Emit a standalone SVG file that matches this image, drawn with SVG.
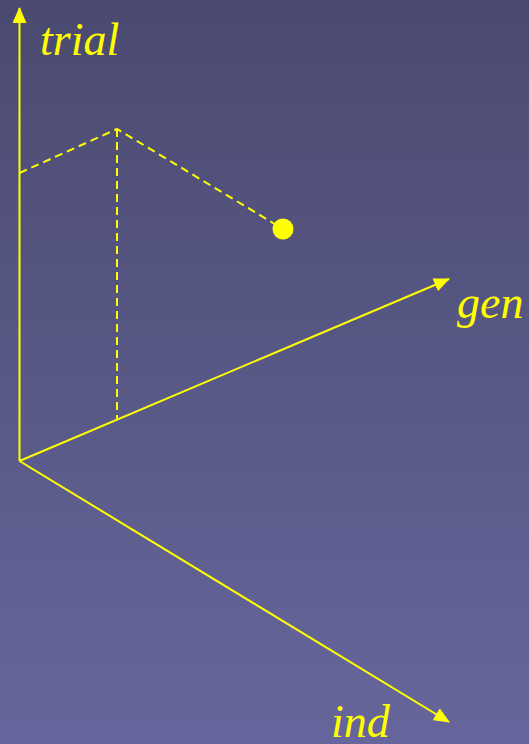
<svg xmlns="http://www.w3.org/2000/svg" width="529" height="744" viewBox="0 0 529 744">
<defs>
<linearGradient id="bg" x1="0" y1="0" x2="0" y2="1">
<stop offset="0" stop-color="#4a4a70"/>
<stop offset="1" stop-color="#66669c"/>
</linearGradient>
<marker id="ah" viewBox="0 0 16 14" refX="15" refY="7" markerWidth="16" markerHeight="14" markerUnits="userSpaceOnUse" orient="auto">
<path d="M0,0 L16,7 L0,14 Z" fill="#ffff00"/>
</marker>
<style>
.axis{stroke:#ffff00;stroke-width:2;fill:none}
.dash{stroke:#ffff00;stroke-width:2;fill:none;stroke-dasharray:8 5}
.lbl{fill:#ffff00;font-family:"Liberation Serif",serif;font-style:italic;font-size:46px}
</style>
</defs>
<rect width="529" height="744" fill="url(#bg)"/>
<g id="connectors">
<line class="axis" x1="19.5" y1="461" x2="19.5" y2="8" marker-end="url(#ah)"/>
<line class="axis" x1="19.5" y1="461" x2="449" y2="279" marker-end="url(#ah)"/>
<line class="axis" x1="19.5" y1="461" x2="449" y2="722" marker-end="url(#ah)"/>
<polyline class="dash" points="19.5,173 117,129 283,229"/>
<line class="dash" x1="117" y1="129" x2="117" y2="419"/>
</g>
<g id="point"><circle cx="283" cy="229" r="10.5" fill="#ffff00"/></g>
<g id="label-trial"><text class="lbl" x="40" y="55">trial</text></g>
<g id="label-gen"><text class="lbl" x="457" y="318">gen</text></g>
<g id="label-ind"><text class="lbl" x="331" y="737">ind</text></g>
</svg>
